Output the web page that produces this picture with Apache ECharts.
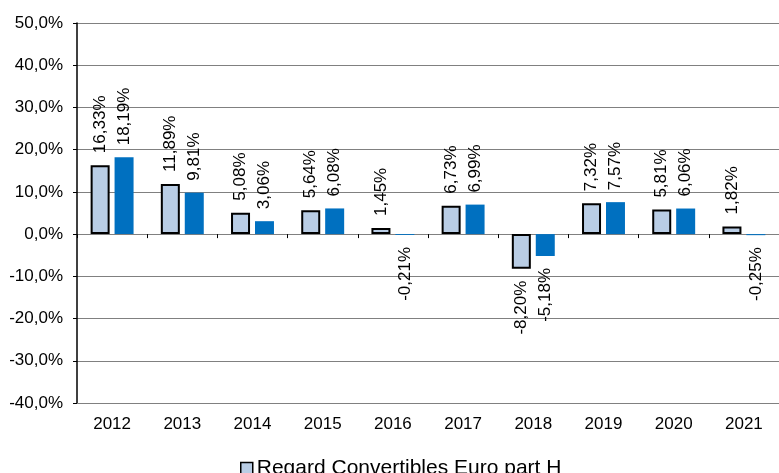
<!DOCTYPE html>
<html>
<head>
<meta charset="utf-8">
<script src="https://cdn.jsdelivr.net/npm/echarts@6/dist/echarts.min.js"></script>
<style>html,body{margin:0;padding:0;background:#fff}#c{width:779px;height:473px}</style>
</head>
<body>
<div id="c"></div>
<script>
const categories = ['2012','2013','2014','2015','2016','2017','2018','2019','2020','2021'];
const fundValues = [16.33, 11.89, 5.08, 5.64, 1.45, 6.73, -8.20, 7.32, 5.81, 1.82];
const indexValues = [18.19, 9.81, 3.06, 6.08, -0.21, 6.99, -5.18, 7.57, 6.06, -0.25];
const fundName = 'Regard Convertibles Euro part H';
const indexName = 'Indice de référence';

const fmt = v => v.toFixed(2).replace('.', ',') + '%';
const labelFor = v => ({
  show: true,
  position: v >= 0 ? 'top' : 'bottom',
  rotate: 90,
  align: v >= 0 ? 'left' : 'right',
  verticalAlign: 'middle',
  distance: 12,
  fontFamily: 'Liberation Sans, Arial',
  fontSize: 17,
  color: '#000',
  formatter: fmt(v)
});

const chart = echarts.init(document.getElementById('c'));
chart.setOption({
  animation: false,
  legend: {
    data: [{ name: fundName, icon: 'rect' }],
    left: 235, top: 453,
    itemWidth: 12, itemHeight: 12, itemGap: 4,
    itemStyle: { borderColor: '#000', borderWidth: 1.5 },
    textStyle: { fontFamily: 'Liberation Sans, Arial', fontSize: 21, color: '#000', padding: [0, 0, 0, -1] }
  },
  grid: { left: 77, top: 23, width: 707, height: 380, containLabel: false },
  xAxis: [{
    type: 'category', data: categories, position: 'bottom',
    axisLine: { onZero: false, lineStyle: { color: '#808080', width: 1 } },
    axisTick: { show: false },
    axisLabel: { fontFamily: 'Liberation Sans, Arial', fontSize: 17, color: '#000', margin: 13 }
  }, {
    type: 'category', data: categories, position: 'bottom',
    axisLine: { show: true, onZero: true, lineStyle: { color: '#808080', width: 1 } },
    axisTick: { show: true, length: 4, lineStyle: { color: '#000' } },
    axisLabel: { show: false }
  }],
  yAxis: {
    type: 'value', min: -40, max: 50, interval: 10,
    axisLine: { show: true, lineStyle: { color: '#000', width: 1.5 } },
    axisTick: { show: true, length: 4, lineStyle: { color: '#000' } },
    splitLine: { lineStyle: { color: '#808080', width: 1 } },
    axisLabel: {
      fontFamily: 'Liberation Sans, Arial', fontSize: 17, color: '#000', margin: 14,
      formatter: v => v.toFixed(1).replace('.', ',') + '%'
    }
  },
  series: [{
    name: fundName, type: 'bar', xAxisIndex: 0,
    barWidth: 19, barGap: '26%',
    itemStyle: { color: '#b9cde5', borderColor: '#000', borderWidth: 2 },
    data: fundValues.map(v => ({ value: v, label: labelFor(v) }))
  }, {
    name: indexName, type: 'bar', xAxisIndex: 0,
    barWidth: 19, barGap: '26%',
    itemStyle: { color: '#0070c0' },
    data: indexValues.map(v => ({ value: v, label: labelFor(v) }))
  }]
});
</script>
</body>
</html>
